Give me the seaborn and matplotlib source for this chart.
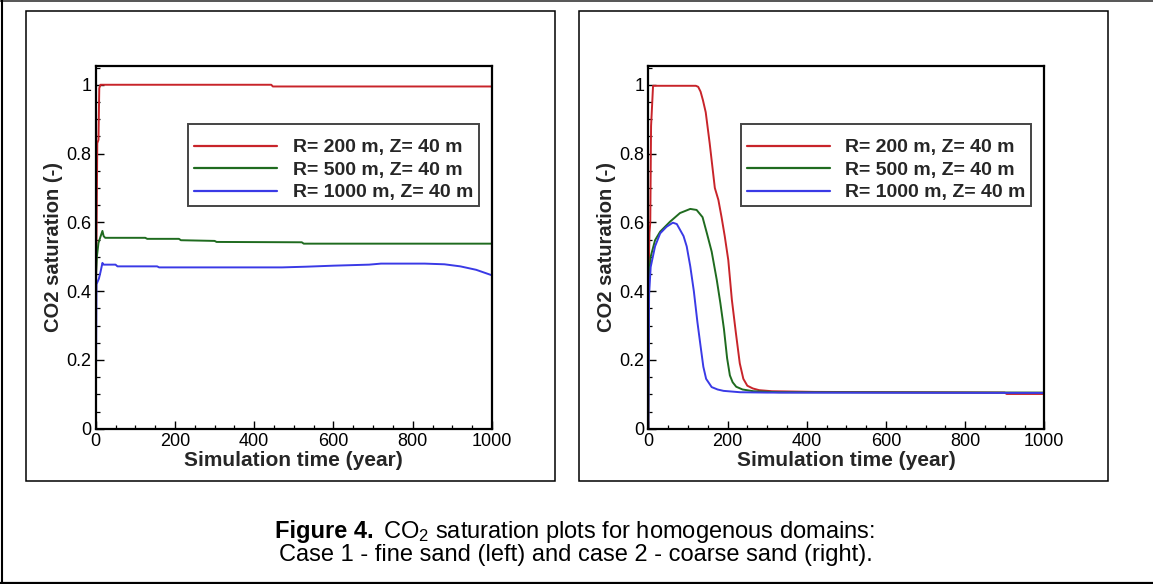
import numpy as np
import pandas as pd
import matplotlib
matplotlib.use("Agg")
import matplotlib.pyplot as plt
from matplotlib.lines import Line2D
from matplotlib.patches import Rectangle
from matplotlib.ticker import MultipleLocator, FixedLocator, FixedFormatter
import seaborn as sns

# ---------------- data ----------------
series_labels = ["R= 200 m, Z= 40 m", "R= 500 m, Z= 40 m", "R= 1000 m, Z= 40 m"]
series_colors = ["#c8242a", "#1f6b1f", "#3a3ae6"]

# Case 1 - fine sand (left)
fine_t_r200 = [0, 1, 2, 4, 7, 9, 12, 443, 447, 1000]
fine_s_r200 = [0, 0.45, 0.55, 0.83, 0.84, 0.99, 1.0, 1.0, 0.995, 0.995]
fine_t_r500 = [0, 1, 3, 7, 12, 17, 20, 24, 125, 130, 210, 215, 300, 305, 520, 525, 1000]
fine_s_r500 = [0, 0.45, 0.50, 0.54, 0.558, 0.575, 0.56, 0.555, 0.555, 0.552, 0.552,
               0.548, 0.546, 0.543, 0.542, 0.538, 0.538]
fine_t_r1000 = [0, 2, 8, 12, 17, 20, 50, 55, 155, 160, 470, 530, 600, 690, 720,
                830, 880, 920, 960, 1000]
fine_s_r1000 = [0, 0.42, 0.436, 0.455, 0.482, 0.477, 0.477, 0.472, 0.472, 0.469, 0.469,
                0.471, 0.474, 0.477, 0.480, 0.480, 0.478, 0.472, 0.462, 0.446]

# Case 2 - coarse sand (right)
coarse_t_r200 = [0, 1, 3, 5, 7, 10, 12, 120, 126, 132, 138, 145, 155, 168, 177, 185, 193,
                 202, 211, 221, 231, 240, 250, 264, 280, 312, 420, 900, 905, 1000]
coarse_s_r200 = [0, 0.45, 0.57, 0.60, 0.88, 0.95, 0.997, 0.997, 0.994, 0.98, 0.955, 0.92,
                 0.83, 0.70, 0.665, 0.615, 0.56, 0.49, 0.375, 0.28, 0.19, 0.145, 0.125,
                 0.117, 0.112, 0.109, 0.107, 0.105, 0.101, 0.101]
coarse_t_r500 = [0, 2, 6, 17, 30, 55, 80, 106, 122, 137, 148, 160, 173, 182, 191,
                 199, 206, 213, 222, 238, 265, 330, 1000]
coarse_s_r500 = [0, 0.45, 0.50, 0.548, 0.573, 0.602, 0.627, 0.639, 0.636, 0.615, 0.568,
                 0.515, 0.432, 0.365, 0.29, 0.205, 0.155, 0.135, 0.122, 0.114, 0.109,
                 0.106, 0.105]
coarse_t_r1000 = [0, 2, 6, 17, 30, 46, 62, 72, 89, 97, 106, 115, 124, 132, 139,
                  146, 160, 175, 190, 232, 300, 1000]
coarse_s_r1000 = [0, 0.39, 0.47, 0.53, 0.568, 0.587, 0.599, 0.595, 0.56, 0.53, 0.472,
                  0.40, 0.31, 0.24, 0.18, 0.145, 0.121, 0.114, 0.110, 0.106, 0.105, 0.104]

x_ticks = [0, 200, 400, 600, 800, 1000]
x_tick_labels = ["0", "200", "400", "600", "800", "1000"]
y_ticks = [0, 0.2, 0.4, 0.6, 0.8, 1.0]
y_tick_labels = ["0", "0.2", "0.4", "0.6", "0.8", "1"]

x_label = "Simulation time (year)"
y_label = "CO2 saturation (-)"
caption_bold = "Figure 4."
caption_line1 = "CO$_2$ saturation plots for homogenous domains:"
caption_line2 = "Case 1 - fine sand (left) and case 2 - coarse sand (right)."


def make_df(ts, ss):
    rows = []
    for lab, t, s in zip(series_labels, ts, ss):
        for ti, si in zip(t, s):
            rows.append({"t": ti, "s": si, "series": lab})
    return pd.DataFrame(rows)


df_fine = make_df([fine_t_r200, fine_t_r500, fine_t_r1000],
                  [fine_s_r200, fine_s_r500, fine_s_r1000])
df_coarse = make_df([coarse_t_r200, coarse_t_r500, coarse_t_r1000],
                    [coarse_s_r200, coarse_s_r500, coarse_s_r1000])

# ---------------- style ----------------
sns.set_style("white")
plt.rcParams["font.family"] = ["Liberation Sans", "DejaVu Sans"]
plt.rcParams["mathtext.fontset"] = "custom"
plt.rcParams["mathtext.rm"] = "Liberation Sans"
plt.rcParams["mathtext.bf"] = "Liberation Sans:bold"
plt.rcParams["mathtext.it"] = "Liberation Sans:italic"

W, H = 1153, 584
fig = plt.figure(figsize=(W / 100, H / 100), dpi=100)
fig.patch.set_facecolor("white")

palette = dict(zip(series_labels, series_colors))


def px_rect(x0, y0, x1, y1):
    return [x0 / W, 1 - y1 / H, (x1 - x0) / W, (y1 - y0) / H]


ax_l = fig.add_axes(px_rect(95.7, 65.5, 492.0, 428.7))
ax_r = fig.add_axes(px_rect(648.3, 65.5, 1044.3, 428.7))

AX_H = 428.7 - 65.5

for ax, df in [(ax_l, df_fine), (ax_r, df_coarse)]:
    sns.lineplot(data=df, x="t", y="s", hue="series", hue_order=series_labels,
                 palette=palette, sort=False, estimator=None, linewidth=1.4,
                 ax=ax, legend=False)
    ax.set_xlim(0, 1000)
    ax.set_ylim(0, 1.056)
    ax.xaxis.set_major_locator(FixedLocator(x_ticks))
    ax.xaxis.set_major_formatter(FixedFormatter(x_tick_labels))
    ax.yaxis.set_major_locator(FixedLocator(y_ticks))
    ax.yaxis.set_major_formatter(FixedFormatter(y_tick_labels))
    ax.xaxis.set_minor_locator(MultipleLocator(50))
    ax.yaxis.set_minor_locator(MultipleLocator(0.05))
    ax.tick_params(axis="both", which="major", direction="in", length=5.5, width=1.0,
                   labelsize=13, pad=3.0, color="black", labelcolor="black",
                   bottom=True, left=True, top=False, right=False)
    ax.tick_params(axis="both", which="minor", direction="in", length=3, width=0.9,
                   color="black", bottom=True, left=True, top=False, right=False)
    for sp in ax.spines.values():
        sp.set_visible(True)
        sp.set_color("black")
        sp.set_linewidth(1.6)
    ax.set_xlabel(x_label, fontsize=15, fontweight="bold", labelpad=0.5)
    ax.set_ylabel(y_label, fontsize=14.5, fontweight="bold", labelpad=2.5)
    ax.set_facecolor("white")

    # legend box drawn separately for exact size
    box = Rectangle((0.234, (428.7 - 206) / AX_H), 0.733, (206 - 124) / AX_H,
                    transform=ax.transAxes, facecolor="white", edgecolor="#444444",
                    linewidth=1.4, zorder=4)
    ax.add_patch(box)
    handles = [Line2D([0], [0], color=c, lw=1.6) for c in series_colors]
    leg = ax.legend(handles, series_labels, loc="upper left",
                    bbox_to_anchor=(0.234, (428.7 - 133.0) / AX_H), borderaxespad=0,
                    frameon=False, prop={"size": 14, "weight": "bold"},
                    handlelength=4.27, handletextpad=0.8, borderpad=0.3,
                    labelspacing=0.25)
    leg.set_zorder(5)

# panel boxes
for (x0, x1) in [(26.3, 555.0), (579.3, 1108.3)]:
    r = Rectangle((x0 / W, 1 - 481 / H), (x1 - x0) / W, (481 - 10.7) / H,
                  transform=fig.transFigure, fill=False, edgecolor="black",
                  linewidth=1.1)
    fig.add_artist(r)

# outer frame lines (top gray, left and bottom black)
fig.add_artist(Line2D([0, 1], [1 - 1.0 / H, 1 - 1.0 / H], transform=fig.transFigure,
                      color="#555555", linewidth=1.4))
fig.add_artist(Line2D([1.7 / W, 1.7 / W], [1 - 582.7 / H, 1], transform=fig.transFigure,
                      color="black", linewidth=1.5))
fig.add_artist(Line2D([0, 1], [1 - 582.7 / H, 1 - 582.7 / H], transform=fig.transFigure,
                      color="black", linewidth=1.6))

# caption
fig.text(275 / W, 1 - 531.7 / H, caption_bold, ha="left", va="center",
         fontsize=17, fontweight="bold", color="black")
fig.text(382.7 / W, 1 - 531.7 / H, caption_line1, ha="left", va="center",
         fontsize=17, color="black")
fig.text(0.4995, 1 - 555.5 / H, caption_line2, ha="center", va="center",
         fontsize=17, color="black")

fig.savefig("out.png", dpi=100, facecolor="white")
